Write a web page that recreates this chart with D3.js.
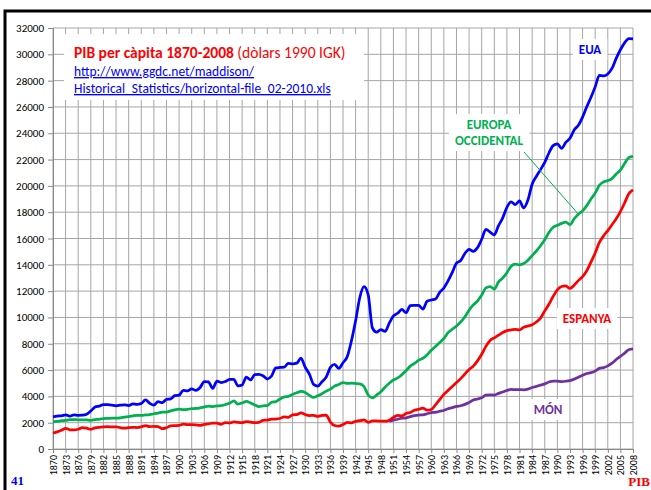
<!DOCTYPE html>
<html>
<head>
<meta charset="utf-8">
<script src="https://cdn.jsdelivr.net/npm/d3@7"></script>
<style>
  body { margin: 0; background: #fff; }
  svg { display: block; }
</style>
</head>
<body>
<svg id="chart" width="651" height="490"></svg>
<script>
// GDP per capita, 1990 GK dollars
var yearsAll = d3.range(1870, 2009);
var yearsWorld = d3.range(1950, 2009);

var eua = [2445, 2503, 2524, 2599, 2503, 2599, 2562, 2574, 2642, 2886,
  3184, 3260, 3365, 3366, 3342, 3287, 3330, 3363, 3300, 3425,
  3392, 3461, 3725, 3477, 3338, 3595, 3521, 3776, 3809, 4051,
  4091, 4464, 4421, 4567, 4459, 4674, 5129, 5098, 4606, 5157,
  5053, 5127, 5296, 5301, 4799, 4864, 5462, 5247, 5656, 5681,
  5559, 5320, 5549, 6164, 6200, 6219, 6507, 6479, 6522, 6899,
  6213, 5691, 4908, 4777, 5114, 5467, 6204, 6430, 6126, 6561,
  7010, 8206, 9741, 11518, 12333, 11709, 9197, 8886, 9065, 8944,
  9561, 10116, 10316, 10613, 10359, 10897, 10914, 10920, 10631, 11230,
  11328, 11402, 11905, 12242, 12773, 13419, 14134, 14330, 14863, 15179,
  15030, 15304, 15944, 16689, 16491, 16284, 16975, 17567, 18373, 18789,
  18577, 18856, 18325, 18920, 20123, 20717, 21236, 21788, 22499, 23059,
  23201, 22849, 23298, 23616, 24248, 24603, 25230, 26015, 26735, 27525,
  28403, 28355, 28509, 28925, 29692, 30347, 30873, 31197, 31178];

var europa = [2088, 2100, 2150, 2170, 2230, 2240, 2220, 2220, 2210, 2180,
  2230, 2260, 2310, 2330, 2340, 2350, 2370, 2430, 2460, 2520,
  2560, 2560, 2590, 2620, 2680, 2730, 2800, 2810, 2900, 2980,
  3030, 3000, 3020, 3060, 3080, 3130, 3200, 3260, 3230, 3270,
  3290, 3380, 3470, 3650, 3420, 3500, 3620, 3500, 3350, 3220,
  3280, 3300, 3550, 3600, 3800, 3950, 4000, 4150, 4270, 4380,
  4300, 4080, 3920, 4050, 4200, 4400, 4550, 4780, 4900, 5050,
  4980, 5000, 4980, 4950, 4750, 4100, 3880, 4100, 4350, 4700,
  5000, 5250, 5400, 5650, 5950, 6300, 6500, 6750, 6900, 7150,
  7500, 7800, 8100, 8400, 8850, 9100, 9350, 9650, 10050, 10550,
  10950, 11250, 11700, 12250, 12350, 12150, 12700, 13000, 13400, 13900,
  14050, 14000, 14100, 14350, 14700, 15050, 15450, 15900, 16450, 16850,
  17000, 17150, 17250, 17050, 17500, 17850, 18100, 18500, 19000, 19450,
  20050, 20300, 20400, 20550, 20900, 21200, 21700, 22150, 22250];

var espanya = [1200, 1300, 1420, 1570, 1460, 1450, 1500, 1620, 1580, 1500,
  1600, 1650, 1680, 1700, 1680, 1690, 1620, 1580, 1620, 1640,
  1630, 1680, 1780, 1700, 1720, 1700, 1540, 1620, 1760, 1780,
  1800, 1900, 1850, 1850, 1840, 1800, 1870, 1910, 1970, 1960,
  1880, 2010, 1980, 2060, 2020, 2000, 2080, 2040, 2000, 2030,
  2180, 2200, 2270, 2280, 2320, 2450, 2400, 2600, 2620, 2740,
  2620, 2540, 2560, 2480, 2560, 2580, 2050, 1790, 1740, 1860,
  2030, 1990, 2100, 2150, 2220, 2030, 2130, 2130, 2120, 2110,
  2190, 2400, 2550, 2510, 2700, 2780, 2950, 3020, 3100, 2950,
  3000, 3350, 3750, 4150, 4450, 4750, 5050, 5350, 5700, 6050,
  6300, 6700, 7200, 7800, 8250, 8450, 8650, 8850, 9000, 9050,
  9100, 9050, 9250, 9350, 9450, 9650, 9950, 10500, 11000, 11600,
  12100, 12350, 12400, 12200, 12450, 12800, 13100, 13550, 14200, 14900,
  15700, 16200, 16600, 17050, 17500, 18050, 18700, 19400, 19700];

var mon = [2113, 2200, 2260, 2340, 2370, 2460, 2540, 2580, 2600, 2680,
  2770, 2790, 2870, 2930, 3060, 3140, 3240, 3290, 3390, 3530,
  3730, 3800, 3900, 4090, 4120, 4100, 4230, 4330, 4450, 4530,
  4510, 4520, 4500, 4550, 4670, 4760, 4850, 4950, 5090, 5160,
  5150, 5130, 5150, 5200, 5310, 5450, 5600, 5740, 5800, 5920,
  6130, 6190, 6320, 6520, 6800, 7040, 7290, 7540, 7610];

var xTicks = d3.range(1870, 2009, 3);
var yTicks = d3.range(0, 32001, 2000);

var svg = d3.select("#chart");

// outer frame (only top and left edge are inside the picture)
svg.append("rect")
    .attr("x", 5).attr("y", 11)
    .attr("width", 700).attr("height", 520)
    .attr("fill", "none")
    .attr("stroke", "#000")
    .attr("stroke-width", 3);

var x = d3.scaleLinear().domain([1870, 2008]).range([53, 633]);
var y = d3.scaleLinear().domain([0, 32000]).range([449, 28]);

// grid
svg.append("g").selectAll("line")
    .data(yTicks)
    .enter().append("line")
    .attr("x1", x(1870)).attr("x2", x(2008))
    .attr("y1", function (d) { return y(d); })
    .attr("y2", function (d) { return y(d); })
    .attr("stroke", "#a6a6a6");

svg.append("g").selectAll("line")
    .data(xTicks)
    .enter().append("line")
    .attr("x1", function (d) { return x(d); })
    .attr("x2", function (d) { return x(d); })
    .attr("y1", y(32000)).attr("y2", y(0))
    .attr("stroke", "#a6a6a6");

// axes
var yAxis = d3.axisLeft(y).tickValues(yTicks).tickFormat(d3.format("d"))
    .tickSize(5).tickPadding(4);
var gy = svg.append("g")
    .attr("transform", "translate(" + x(1870) + ",0)")
    .call(yAxis);
gy.select(".domain").attr("stroke", "#888");
gy.selectAll(".tick line").attr("stroke", "#888");
gy.selectAll("text")
    .attr("font-family", "Carlito, Lato, sans-serif")
    .attr("font-size", 11)
    .attr("fill", "#000");

var xAxis = d3.axisBottom(x).tickValues(xTicks).tickFormat(d3.format("d")).tickSize(4);
var gx = svg.append("g")
    .attr("transform", "translate(0," + y(0) + ")")
    .call(xAxis);
gx.select(".domain").attr("stroke", "#888");
gx.selectAll(".tick line").attr("stroke", "#888");
gx.selectAll("text")
    .attr("font-family", "Carlito, Lato, sans-serif")
    .attr("font-size", 10)
    .attr("fill", "#000")
    .attr("text-anchor", "end")
    .attr("dy", "0.35em")
    .attr("transform", "translate(0,2) rotate(-90)")
    .attr("x", -4).attr("y", 0);

// title box
svg.append("rect")
    .attr("x", 64).attr("y", 34)
    .attr("width", 300).attr("height", 66)
    .attr("fill", "#fff");

var title = svg.append("text")
    .attr("x", 74).attr("y", 58)
    .attr("font-family", "Carlito, Lato, sans-serif")
    .attr("font-size", 15.5)
    .attr("fill", "#ff0000");
title.append("tspan").attr("font-weight", "bold").text("PIB per càpita 1870-2008");
title.append("tspan").text(" (dòlars 1990 IGK)");

svg.append("text")
    .attr("x", 74).attr("y", 76)
    .attr("font-family", "Carlito, Lato, sans-serif")
    .attr("font-size", 13.5)
    .attr("fill", "#0000ff")
    .attr("text-decoration", "underline")
    .text("http://www.ggdc.net/maddison/");

svg.append("text")
    .attr("x", 74).attr("y", 93)
    .attr("font-family", "Carlito, Lato, sans-serif")
    .attr("font-size", 13.5)
    .attr("fill", "#0000ff")
    .attr("text-decoration", "underline")
    .text("Historical_Statistics/horizontal-file_02-2010.xls");

// series
var series = [
    { name: "mon", years: yearsWorld, values: mon, color: "#7030a0" },
    { name: "espanya", years: yearsAll, values: espanya, color: "#ff0000" },
    { name: "europa", years: yearsAll, values: europa, color: "#00b050" },
    { name: "eua", years: yearsAll, values: eua, color: "#0000ff" }
];

var line = d3.line()
    .x(function (d) { return x(d[0]); })
    .y(function (d) { return y(d[1]); })
    .curve(d3.curveMonotoneX);

series.forEach(function (s) {
    svg.append("path")
        .datum(d3.zip(s.years, s.values))
        .attr("fill", "none")
        .attr("stroke", s.color)
        .attr("stroke-width", 2.75)
        .attr("stroke-linejoin", "round")
        .attr("d", line);
});

// labels with white boxes
function label(lines, cx, base, color, lh) {
    var g = svg.append("g");
    var bg = g.append("rect").attr("fill", "#fff");
    var t = g.append("text")
        .attr("font-family", "Carlito, Lato, sans-serif")
        .attr("font-size", 13)
        .attr("font-weight", "bold")
        .attr("fill", color)
        .attr("text-anchor", "middle");
    lines.forEach(function (l, i) {
        t.append("tspan").attr("x", cx).attr("y", base + i * lh).text(l);
    });
    var b = t.node().getBBox();
    bg.attr("x", b.x - 6).attr("y", b.y - 3)
        .attr("width", b.width + 12).attr("height", b.height + 6);
}

// leader line for Europa occidental
svg.append("line")
    .attr("x1", 524).attr("y1", 152)
    .attr("x2", x(1995)).attr("y2", y(17850))
    .attr("stroke", "#00b050")
    .attr("stroke-width", 1);

label(["EUA"], 590, 54, "#0000ff", 15);
label(["EUROPA", "OCCIDENTAL"], 489, 129, "#00b050", 16);
label(["ESPANYA"], 587, 323, "#ff0000", 15);
label(["MÓN"], 548, 414, "#7030a0", 15);

// page marks
svg.append("text")
    .attr("x", 11).attr("y", 485)
    .attr("font-family", "Liberation Serif, serif")
    .attr("font-size", 13)
    .attr("font-weight", "bold")
    .attr("fill", "#0000ff")
    .text("41");

svg.append("text")
    .attr("x", 650).attr("y", 486)
    .attr("text-anchor", "end")
    .attr("font-family", "Liberation Serif, serif")
    .attr("font-size", 13)
    .attr("font-weight", "bold")
    .attr("fill", "#ff0000")
    .text("PIB");
</script>
</body>
</html>
